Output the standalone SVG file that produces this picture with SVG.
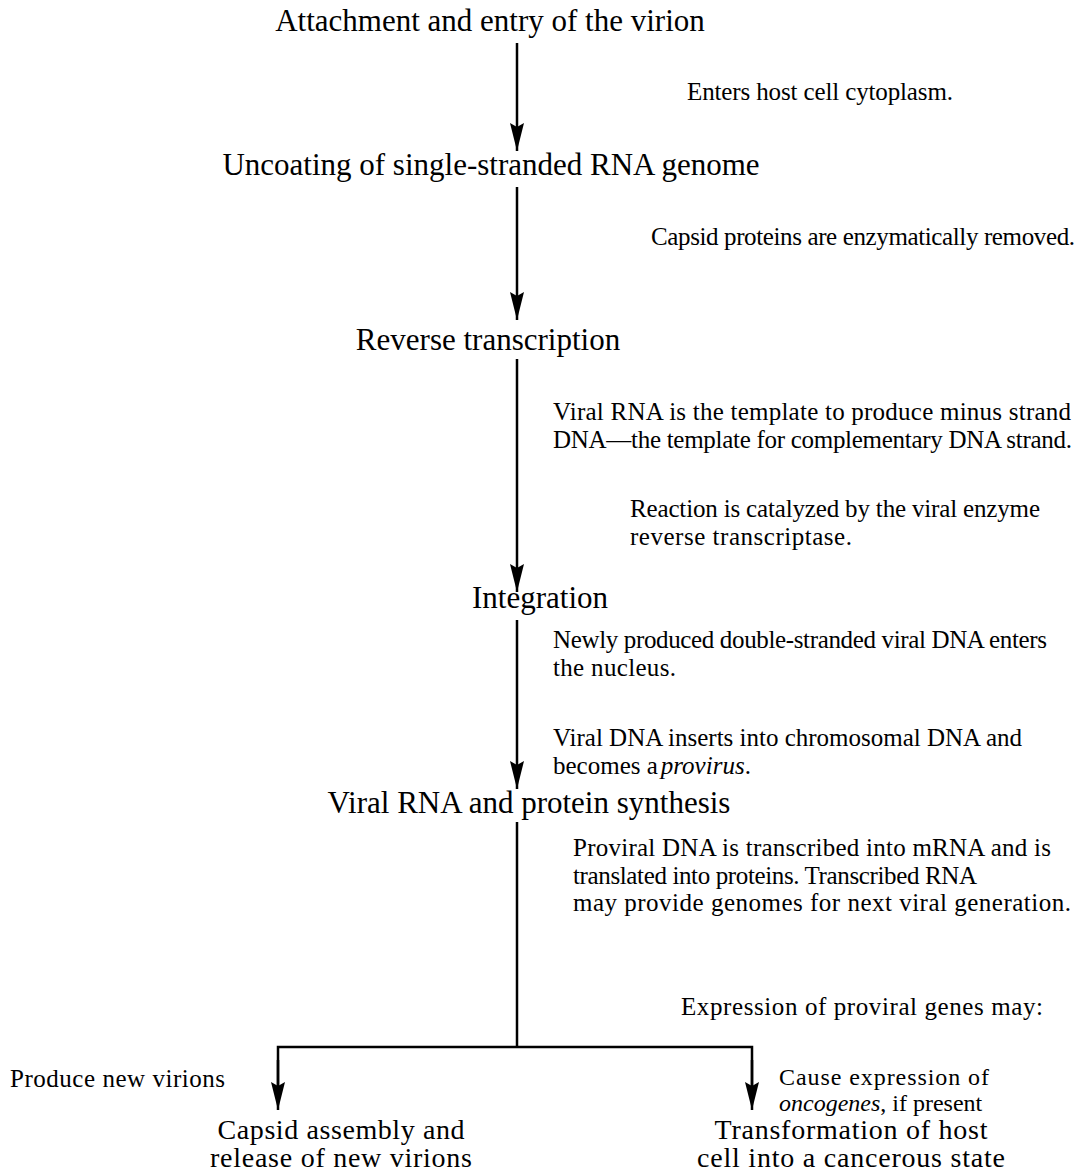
<svg xmlns="http://www.w3.org/2000/svg" width="1079" height="1174" viewBox="0 0 1079 1174">
<defs>
<style>
.t{font-family:"Liberation Serif","Times New Roman",serif;font-size:31px;fill:#000;text-anchor:middle}
.b{font-size:28px}
.s{font-family:"Liberation Serif","Times New Roman",serif;font-size:25px;fill:#000}
.c{font-size:24px}
.ln{stroke:#000;stroke-width:2.5;fill:none}
</style>
<marker id="ah" markerUnits="userSpaceOnUse" markerWidth="30" markerHeight="16" refX="28" refY="8" orient="auto" viewBox="0 0 30 16">
<path d="M0,1 L4,8 L0,15 L28,8 Z" fill="#000"/>
</marker>
</defs>
<rect width="1079" height="1174" fill="#fff"/>
<g id="n1"><text class="t" x="490" y="31">Attachment and entry of the virion</text></g>
<g id="n2"><text class="t" x="491" y="175">Uncoating of single-stranded RNA genome</text></g>
<g id="n3"><text class="t" x="488" y="350">Reverse transcription</text></g>
<g id="n4"><text class="t" x="540" y="608">Integration</text></g>
<g id="n5"><text class="t" x="529" y="813">Viral RNA and protein synthesis</text></g>
<g id="n6"><text class="t b" x="341" y="1139" textLength="247" lengthAdjust="spacing">Capsid assembly and</text><text class="t b" x="341" y="1167" textLength="262" lengthAdjust="spacing">release of new virions</text></g>
<g id="n7"><text class="t b" x="851" y="1139" textLength="273" lengthAdjust="spacing">Transformation of host</text><text class="t b" x="851" y="1167" textLength="308" lengthAdjust="spacing">cell into a cancerous state</text></g>
<g id="connectors">
<line class="ln" x1="517" y1="43" x2="517" y2="151" marker-end="url(#ah)"/>
<line class="ln" x1="517" y1="187" x2="517" y2="320" marker-end="url(#ah)"/>
<line class="ln" x1="517" y1="359" x2="517" y2="592" marker-end="url(#ah)"/>
<line class="ln" x1="517" y1="620" x2="517" y2="789" marker-end="url(#ah)"/>
<line class="ln" x1="517" y1="822" x2="517" y2="1047"/>
<polyline class="ln" points="278,1090 278,1047 752,1047 752,1090"/>
<line class="ln" x1="278" y1="1060" x2="278" y2="1110" marker-end="url(#ah)"/>
<line class="ln" x1="752" y1="1060" x2="752" y2="1110" marker-end="url(#ah)"/>
</g>
<g id="labels">
<text class="s" x="687" y="100" textLength="266" lengthAdjust="spacing">Enters host cell cytoplasm.</text>
<text class="s" x="651" y="245" textLength="424" lengthAdjust="spacing">Capsid proteins are enzymatically removed.</text>
<text class="s" x="553" y="420" textLength="518" lengthAdjust="spacing">Viral RNA is the template to produce minus strand</text>
<text class="s" x="553" y="448" textLength="519" lengthAdjust="spacing">DNA—the template for complementary DNA strand.</text>
<text class="s" x="630" y="517" textLength="410" lengthAdjust="spacing">Reaction is catalyzed by the viral enzyme</text>
<text class="s" x="630" y="545" textLength="222" lengthAdjust="spacing">reverse transcriptase.</text>
<text class="s" x="553" y="648" textLength="494" lengthAdjust="spacing">Newly produced double-stranded viral DNA enters</text>
<text class="s" x="553" y="676" textLength="123" lengthAdjust="spacing">the nucleus.</text>
<text class="s" x="553" y="746" textLength="469" lengthAdjust="spacing">Viral DNA inserts into chromosomal DNA and</text>
<text class="s" x="553" y="774">becomes a<tspan font-style="italic" dx="3">provirus</tspan>.</text>
<text class="s" x="573" y="856" textLength="478" lengthAdjust="spacing">Proviral DNA is transcribed into mRNA and is</text>
<text class="s" x="573" y="884" textLength="404" lengthAdjust="spacing">translated into proteins. Transcribed RNA</text>
<text class="s" x="573" y="911" textLength="498" lengthAdjust="spacing">may provide genomes for next viral generation.</text>
<text class="s" x="681" y="1015" textLength="362" lengthAdjust="spacing">Expression of proviral genes may:</text>
<text class="s" x="10" y="1087" textLength="215" lengthAdjust="spacing">Produce new virions</text>
<text class="s c" x="779" y="1085" textLength="210" lengthAdjust="spacing">Cause expression of</text>
<text class="s c" x="779" y="1111"><tspan font-style="italic">oncogenes</tspan>, if present</text>
</g>
</svg>
